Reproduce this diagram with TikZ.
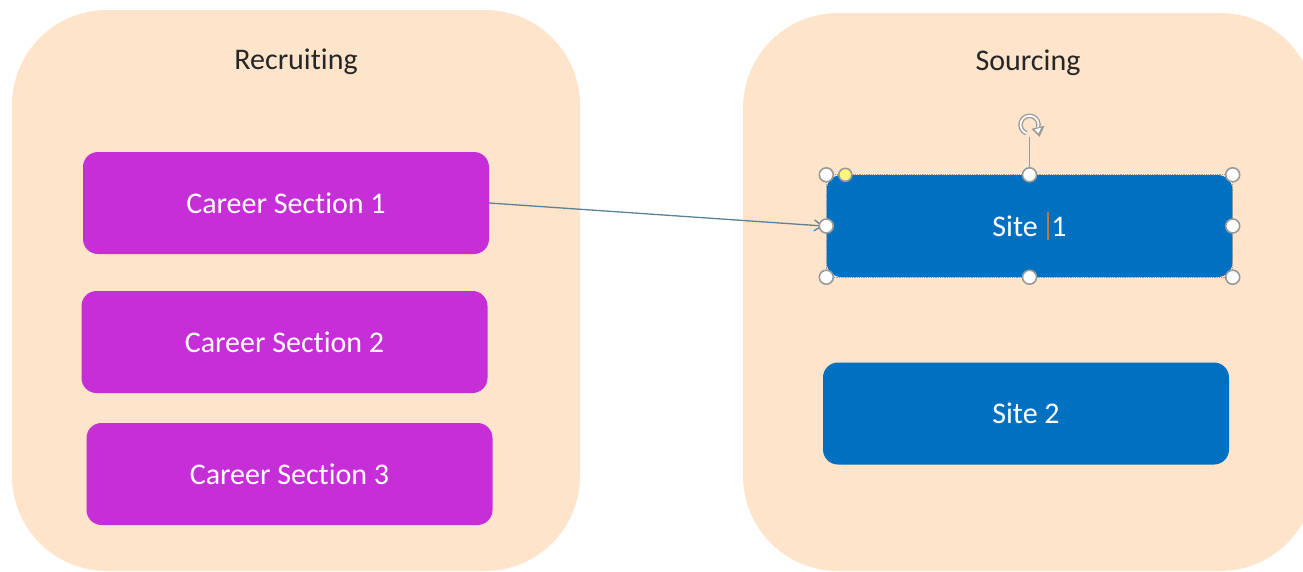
\documentclass[tikz,border=0pt]{standalone}
\usepackage{fontspec}
\setmainfont{Carlito}[Ligatures=NoCommon]
\usetikzlibrary{arrows.meta}

\definecolor{peach}{HTML}{FDE4CB}
\definecolor{careercol}{HTML}{C62ED8}
\definecolor{siteblue}{HTML}{0070C0}
\definecolor{linkcol}{HTML}{5B8196}
\definecolor{handlecol}{HTML}{9A9A9A}
\definecolor{cursorcol}{HTML}{C07838}
\definecolor{titlecol}{HTML}{262626}

\begin{document}
\begin{tikzpicture}[x=1pt, y=-1pt,
    group/.style={fill=peach, rounded corners=95pt},
    grouptitle/.style={text=titlecol, font=\fontsize{30}{36}\selectfont},
    boxbase/.style={rounded corners=15pt, minimum width=406pt, minimum height=102pt,
        inner sep=0pt, text=white, font=\fontsize{30}{36}\selectfont},
    section/.style={boxbase, fill=careercol},
    site/.style={boxbase, fill=siteblue},
    handle/.style={draw=handlecol, fill=white, line width=1.6pt}]
    \useasboundingbox (0, 0) rectangle (1303, 571);
    \begin{scope}
        \clip (0, 0) rectangle (1303, 571);
        \fill[group] (12, 10) rectangle (580, 571);
        \fill[group] (743, 13) rectangle (1315, 571);
    \end{scope}

    \node[grouptitle] (recruiting) at (296, 62) {Recruiting};
    \node[grouptitle] (sourcing) at (1028, 63) {Sourcing};

    \node[section] (cs1) at (286, 203) {Career Section 1};
    \node[section] (cs2) at (284.5, 342) {Career Section 2};
    \node[section] (cs3) at (289.5, 474) {Career Section 3};

    \node[site] (site1) at (1029.5, 226) {Site\ \ 1};
    \node[site] (site2) at (1026, 413.5) {Site 2};

    % text cursor
    \draw[cursorcol, line width=2pt] ([xshift=18pt, yshift=14pt]site1.center) -- ([xshift=18pt, yshift=-14pt]site1.center);

    % selection frame
    \draw[handlecol, densely dotted, line width=0.8pt] (site1.north west) rectangle (site1.south east);
    \coordinate (rot) at ([yshift=50pt]site1.north);
    \draw[handlecol, line width=1.4pt] (site1.north) -- ([yshift=-12pt]rot);
    \begin{scope}[shift={(rot)}, y=1pt]
        \draw[handlecol, line width=4.5pt] (250:9) arc[start angle=250, end angle=-20, radius=9];
        \draw[white, line width=1.8pt] (250:9) arc[start angle=250, end angle=-20, radius=9];
        \fill[handlecol] (2, -4) -- (15, -1) -- (10, -12) -- cycle;
        \fill[white] (5, -4.5) -- (11.5, -3) -- (9, -8.5) -- cycle;
    \end{scope}

    \draw[linkcol, line width=1.3pt, -{Straight Barb[length=8pt, width=11pt]}] (cs1.east) -- ([xshift=-3pt]site1.west);

    \foreach \a in {north west, north, north east, west, east, south west, south, south east}
        \draw[handle] (site1.\a) circle (7);
    \draw[handle, fill=yellow!55] ([xshift=19pt]site1.north west) circle (6.5);
\end{tikzpicture}
\end{document}
